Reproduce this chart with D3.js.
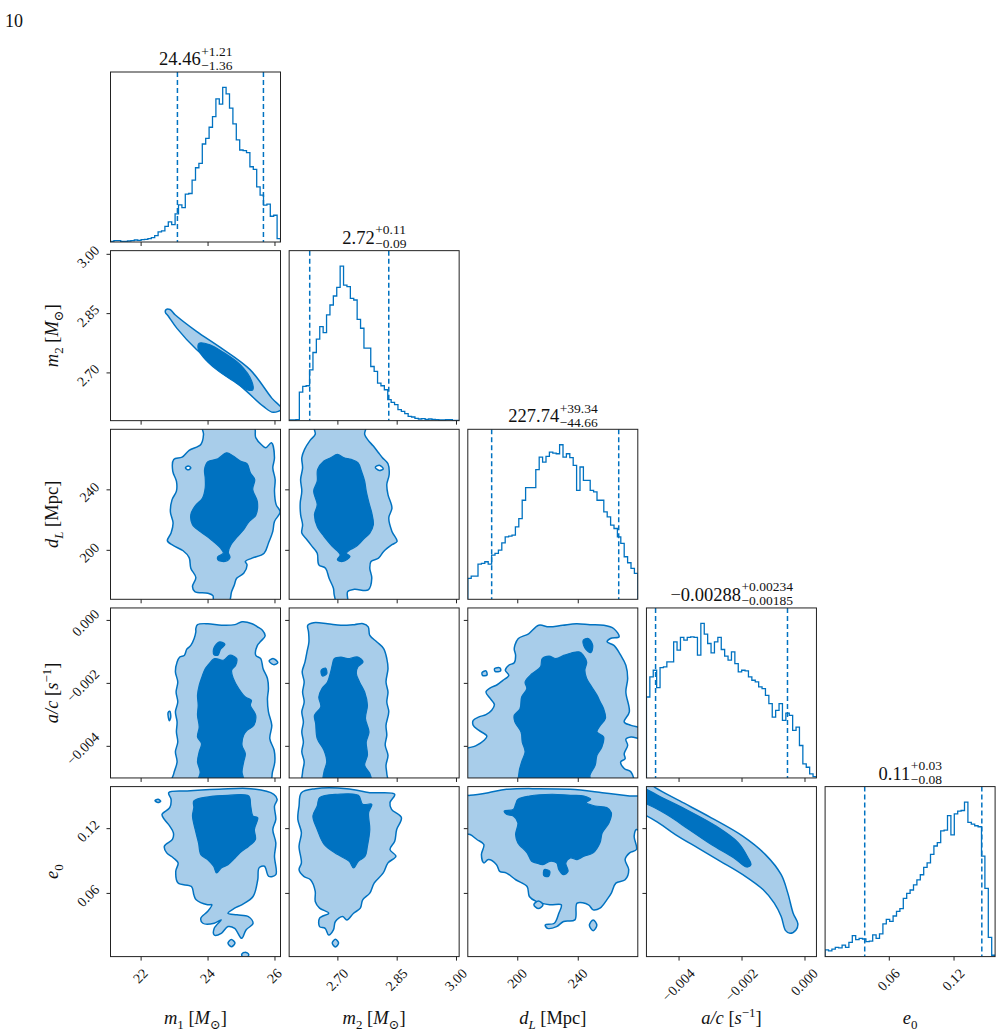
<!DOCTYPE html>
<html>
<head>
<meta charset="utf-8">
<script src="https://cdn.jsdelivr.net/npm/d3@7"></script>
<style>
  body { margin: 0; background: #fff; }
  text { font-family: "Liberation Serif", "DejaVu Serif", serif; fill: #111; }
</style>
</head>
<body>
<svg id="chart" width="1002" height="1034"></svg>
<script>
// parameters: m1, m2, dL, a/c (in units of 1e-3 s^-1), e0
const paramRanges = [[21.1, 26.18], [2.578, 3.008], [167.3, 279.7], [-5.02, 0.38], [0.001, 0.1585]];
const tickValues = [[22, 24, 26], [2.70, 2.85, 3.00], [200, 240], [-4, -2, 0], [0.06, 0.12]];
const tickLabels = [["22", "24", "26"], ["2.70", "2.85", "3.00"], ["200", "240"],
                    ["\u22120.004", "\u22120.002", "0.000"], ["0.06", "0.12"]];

const titleMid = ["24.46", "2.72", "227.74", "\u22120.00288", "0.11"];
const titlePlus = ["+1.21", "+0.11", "+39.34", "+0.00234", "+0.03"];
const titleMinus = ["\u22121.36", "\u22120.09", "\u221244.66", "\u22120.00185", "\u22120.08"];
const qLow = [23.10, 2.63, 183.08, -4.73, 0.0377];
const qHigh = [25.67, 2.83, 267.08, -0.54, 0.1462];

const axisLabels = [
  [{t: "m", it: 1}, {t: "1", sub: 1}, {t: " ["}, {t: "M", it: 1}, {t: "\u2299", sub: 1}, {t: "]"}],
  [{t: "m", it: 1}, {t: "2", sub: 1}, {t: " ["}, {t: "M", it: 1}, {t: "\u2299", sub: 1}, {t: "]"}],
  [{t: "d", it: 1}, {t: "L", sub: 1, it: 1}, {t: " [Mpc]"}],
  [{t: "a/c", it: 1}, {t: " ["}, {t: "s", it: 1}, {t: "\u22121", sup: 1}, {t: "]"}],
  [{t: "e", it: 1}, {t: "0", sub: 1}]
];

// 1D marginal histograms, 50 bins across each axis range
const histM1 = [2,4,4,2,2,3,4,6,5,7,8,10,13,19,30,33,47,60,52,84,111,103,143,145,185,222,235,293,310,343,
                375,428,412,462,443,400,353,305,275,273,267,225,217,165,140,110,113,77,80,10];
const histM2 = [2,2,3,86,103,105,153,205,245,283,265,318,348,375,401,465,408,403,368,363,305,278,218,218,163,
                148,113,105,93,63,55,48,33,28,21,13,11,7,5,6,4,5,4,3,2,2,3,3,1,1];
const histDL = [63,70,70,106,108,113,106,133,138,148,170,188,190,193,218,243,298,336,336,336,390,428,413,430,443,
                440,438,465,428,438,426,403,328,398,358,358,328,323,298,298,263,248,223,213,188,168,128,110,93,78];
const histAC = [242,302,322,270,330,332,347,347,407,382,420,412,420,422,420,367,462,430,402,374,407,420,384,364,352,
                377,342,317,322,320,302,292,287,272,267,247,222,182,202,222,172,194,187,142,152,97,42,32,12,4];
const histE0 = [20,17,22,27,26,34,27,42,62,50,54,52,44,46,64,54,67,97,110,104,120,134,142,172,187,197,212,227,242,264,
                277,302,327,337,372,374,417,360,422,430,432,457,397,392,387,384,297,202,57,4];
const hists = [histM1, histM2, histDL, histAC, histE0];

// 2D credible regions, vertices [x, y] in data units
const cM2M1Out = [[22.76,2.859],[22.88,2.859],[23.03,2.846],[23.67,2.804],[24.37,2.764],[25.27,2.707],[25.92,2.635],
  [26.21,2.608],[25.96,2.599],[25.67,2.614],[25.17,2.652],[24.47,2.703],[23.67,2.758],[23.08,2.812],[22.83,2.842],[22.74,2.852]];
const cM2M1In = [[23.75,2.774],[24.07,2.770],[24.47,2.751],[24.97,2.720],[25.32,2.678],[25.35,2.656],[25.22,2.655],
  [24.77,2.678],[24.27,2.707],[23.87,2.739],[23.72,2.759]];

const cDlM1Out = [[23.85,281.9],[23.88,276.4],[23.80,269.7],[23.45,265.8],[23.24,261.3],[22.99,259.8],[22.96,252.0],
  [23.07,245.4],[23.07,238.8],[22.94,233.2],[22.89,225.0],[22.97,217.7],[22.91,211.1],[22.80,206.0],[22.97,202.9],
  [23.27,199.4],[23.45,194.9],[23.50,187.9],[23.65,181.7],[23.55,175.7],[23.62,172.4],[24.01,171.3],[24.16,169.7],
  [24.19,164.6],[24.62,164.6],[24.72,172.4],[24.80,176.8],[24.87,181.2],[25.08,184.5],[25.18,190.1],[25.13,192.3],
  [25.33,194.5],[25.69,197.8],[25.82,204.4],[25.95,212.2],[26.00,218.8],[26.17,225.0],[26.05,229.9],[26.00,238.8],
  [26.02,246.5],[25.95,254.2],[26.00,260.9],[25.91,270.8],[25.74,267.5],[25.62,269.3],[25.44,274.2],[25.38,281.9]];
const cDlM1In = [[24.57,264.2],[24.77,262.0],[24.98,258.7],[25.18,256.9],[25.28,250.9],[25.41,246.5],[25.35,239.9],
  [25.49,231.7],[25.44,222.8],[25.23,218.4],[25.08,213.3],[24.87,208.2],[24.70,203.4],[24.62,198.5],[24.67,194.9],
  [24.52,192.3],[24.31,193.4],[24.31,195.6],[24.47,197.8],[24.39,201.1],[24.11,206.7],[23.80,211.8],[23.55,216.6],
  [23.50,223.3],[23.62,228.8],[23.85,234.3],[23.93,241.0],[23.93,247.6],[23.91,253.1],[24.01,258.2],[24.31,260.2]];
const cDlM1Hole = [[23.34,254.2],[23.42,255.5],[23.50,254.2],[23.42,252.9]];

const cDlM2Out = [[2.642,281.9],[2.644,276.4],[2.631,272.4],[2.617,266.4],[2.610,260.9],[2.612,254.2],[2.607,246.5],
  [2.610,238.8],[2.606,231.0],[2.607,223.3],[2.612,216.6],[2.610,211.1],[2.623,206.7],[2.636,202.3],[2.649,197.8],
  [2.653,190.1],[2.670,187.9],[2.679,181.2],[2.690,174.6],[2.692,170.2],[2.700,164.6],[2.725,164.6],[2.726,172.4],
  [2.743,173.9],[2.778,173.5],[2.787,181.2],[2.782,187.9],[2.785,192.3],[2.804,194.5],[2.817,198.9],[2.838,203.4],
  [2.851,205.6],[2.838,212.2],[2.830,221.1],[2.838,227.7],[2.828,236.5],[2.825,243.2],[2.831,249.8],[2.828,256.9],
  [2.814,260.9],[2.804,264.2],[2.791,268.6],[2.778,272.4],[2.769,276.4],[2.771,281.9]];
const cDlM2In = [[2.700,263.1],[2.717,260.9],[2.735,259.8],[2.752,257.6],[2.761,252.0],[2.769,245.4],[2.773,238.8],
  [2.780,231.0],[2.787,224.4],[2.791,216.6],[2.782,211.1],[2.769,207.8],[2.748,202.3],[2.732,200.0],[2.723,197.8],
  [2.732,195.6],[2.713,192.3],[2.700,193.4],[2.707,196.7],[2.687,202.3],[2.666,208.9],[2.649,215.5],[2.642,223.3],
  [2.649,229.9],[2.640,238.8],[2.649,245.4],[2.650,253.1],[2.666,258.7],[2.683,260.9]];
const cDlM2Hole = [[2.796,254.5],[2.806,256.0],[2.816,253.6],[2.806,252.5]];

const cAcM1Out = [[23.70,-0.15],[24.01,-0.12],[24.42,-0.17],[24.82,-0.15],[25.03,-0.06],[25.33,-0.12],[25.49,-0.22],
  [25.64,-0.33],[25.72,-0.51],[25.59,-0.68],[25.49,-0.81],[25.44,-1.12],[25.59,-1.23],[25.66,-1.55],[25.79,-1.86],
  [25.82,-2.18],[25.79,-2.50],[25.82,-2.92],[25.92,-3.35],[25.86,-3.77],[25.99,-4.14],[26.01,-4.51],[25.94,-4.83],
  [25.84,-5.20],[22.94,-5.20],[22.99,-4.88],[23.09,-4.51],[23.04,-4.19],[23.11,-3.88],[23.07,-3.56],[23.09,-3.24],
  [23.04,-2.92],[23.11,-2.61],[23.06,-2.29],[23.11,-1.97],[23.04,-1.65],[23.09,-1.34],[23.17,-1.18],[23.31,-1.12],
  [23.38,-0.93],[23.50,-0.81],[23.60,-0.59],[23.65,-0.38],[23.65,-0.28]];
const cAcM1In = [[24.01,-1.44],[24.21,-1.23],[24.47,-1.28],[24.67,-1.12],[24.87,-1.23],[24.84,-1.44],[24.72,-1.60],
  [24.77,-1.86],[24.93,-2.18],[25.13,-2.45],[25.31,-2.55],[25.28,-2.71],[25.44,-3.03],[25.38,-3.35],[25.18,-3.51],
  [25.08,-3.66],[25.03,-3.98],[25.13,-4.25],[25.08,-4.51],[25.03,-4.83],[25.08,-5.20],[23.72,-5.20],[23.78,-4.83],
  [23.70,-4.51],[23.75,-4.19],[23.82,-3.93],[23.70,-3.72],[23.75,-3.40],[23.70,-3.03],[23.72,-2.71],[23.70,-2.39],
  [23.75,-2.08],[23.85,-1.76],[23.93,-1.55]];
const cAcM1Isl = [[24.19,-0.89],[24.36,-0.70],[24.52,-0.78],[24.39,-0.93],[24.31,-1.12],[24.19,-1.10]];
const cAcM1Spot1 = [[25.84,-1.30],[25.97,-1.23],[26.10,-1.36],[25.97,-1.42]];
const cAcM1Spot2 = [[22.82,-2.95],[22.87,-2.90],[22.90,-3.08],[22.86,-3.20]];

const cAcM2Out = [[2.627,-0.38],[2.625,-0.17],[2.640,-0.09],[2.675,-0.12],[2.709,-0.17],[2.743,-0.15],[2.765,-0.12],
  [2.778,-0.22],[2.782,-0.49],[2.800,-0.70],[2.817,-0.91],[2.825,-1.23],[2.828,-1.55],[2.823,-1.97],[2.828,-2.29],
  [2.825,-2.61],[2.830,-2.92],[2.823,-3.35],[2.825,-3.66],[2.821,-3.98],[2.828,-4.30],[2.823,-4.62],[2.825,-4.88],
  [2.825,-5.20],[2.614,-5.20],[2.612,-4.83],[2.616,-4.51],[2.610,-4.19],[2.614,-3.88],[2.610,-3.56],[2.614,-3.24],
  [2.610,-2.92],[2.616,-2.61],[2.612,-2.29],[2.616,-1.97],[2.611,-1.65],[2.618,-1.34],[2.623,-1.02],[2.628,-0.70]];
const cAcM2In = [[2.692,-1.23],[2.709,-1.18],[2.726,-1.23],[2.752,-1.18],[2.765,-1.34],[2.752,-1.49],[2.748,-1.71],
  [2.756,-1.97],[2.769,-2.29],[2.776,-2.71],[2.771,-3.13],[2.780,-3.56],[2.773,-3.88],[2.776,-4.30],[2.769,-4.62],
  [2.782,-4.88],[2.785,-5.20],[2.666,-5.20],[2.666,-4.83],[2.673,-4.51],[2.666,-4.14],[2.649,-3.77],[2.645,-3.29],
  [2.642,-3.03],[2.658,-2.76],[2.653,-2.45],[2.661,-2.18],[2.675,-1.97],[2.683,-1.65],[2.687,-1.44]];
const cAcM2Isl = [[2.659,-1.60],[2.670,-1.53],[2.673,-1.71],[2.662,-1.78]];

const cAcDlOut = [[198.0,-0.93],[198.4,-0.81],[200.7,-0.59],[207.5,-0.44],[214.2,-0.17],[221.0,-0.22],[230.0,-0.17],
  [239.1,-0.12],[248.1,-0.15],[257.1,-0.17],[263.9,-0.28],[267.3,-0.54],[261.6,-0.59],[259.4,-0.70],[263.9,-0.81],
  [268.4,-1.12],[271.8,-1.44],[273.0,-1.86],[271.8,-2.29],[274.1,-2.92],[270.7,-3.24],[275.2,-3.35],[283.1,-3.48],
  [283.1,-3.77],[275.2,-3.72],[271.8,-3.79],[273.0,-3.98],[270.7,-4.25],[271.3,-4.41],[268.4,-4.51],[270.7,-4.72],
  [275.2,-4.83],[276.3,-5.20],[163.5,-5.20],[163.5,-4.17],[172.5,-4.00],[178.1,-3.82],[179.9,-3.69],[174.7,-3.51],
  [170.9,-3.35],[170.9,-3.19],[174.7,-3.08],[179.3,-3.01],[183.1,-2.87],[184.9,-2.69],[182.2,-2.50],[179.3,-2.29],
  [182.2,-2.16],[186.7,-2.06],[190.5,-1.92],[194.4,-1.76],[192.1,-1.60],[194.4,-1.44],[198.0,-1.36],[198.9,-1.12]];
const cAcDlIn = [[216.5,-1.23],[221.0,-1.15],[225.5,-1.23],[231.2,-1.12],[235.7,-1.05],[241.3,-1.02],[243.6,-1.12],
  [245.9,-1.34],[244.7,-1.60],[245.9,-1.86],[249.3,-2.13],[252.7,-2.39],[254.9,-2.61],[257.1,-2.82],[258.3,-3.13],
  [254.9,-3.35],[252.7,-3.56],[257.1,-3.72],[256.0,-4.03],[252.7,-4.30],[251.5,-4.62],[248.1,-4.93],[248.1,-5.20],
  [201.8,-5.20],[201.2,-4.83],[202.9,-4.51],[205.2,-4.19],[203.3,-3.88],[202.5,-3.56],[198.4,-3.24],[198.0,-3.03],
  [201.8,-2.82],[202.9,-2.45],[206.3,-2.18],[205.2,-1.97],[209.7,-1.71],[215.4,-1.49]];
const cAcDlIsl = [[243.6,-0.65],[247.0,-0.59],[249.9,-0.81],[248.6,-1.04],[244.7,-0.89]];
const cAcDlSpot1 = [[176.8,-1.67],[179.3,-1.62],[180.0,-1.75],[177.0,-1.76]];
const cAcDlSpot2 = [[185.0,-1.55],[188.5,-1.52],[189.0,-1.62],[185.5,-1.64]];

const cE0M1Out = [[22.84,0.1529],[23.39,0.1545],[24.34,0.1560],[25.29,0.1566],[25.98,0.1514],[26.08,0.1467],
  [26.00,0.1405],[26.04,0.1281],[25.95,0.1188],[26.04,0.1064],[26.00,0.0940],[26.04,0.0769],[25.83,0.0753],
  [25.70,0.0847],[25.54,0.0832],[25.50,0.0722],[25.36,0.0567],[25.02,0.0490],[24.81,0.0459],[24.61,0.0412],
  [24.88,0.0397],[25.22,0.0381],[25.36,0.0319],[25.15,0.0257],[25.02,0.0179],[24.81,0.0272],[24.61,0.0288],
  [24.41,0.0226],[24.20,0.0210],[24.20,0.0272],[24.41,0.0350],[24.20,0.0319],[23.86,0.0319],[23.80,0.0366],
  [24.00,0.0428],[24.13,0.0490],[24.00,0.0490],[23.66,0.0536],[23.59,0.0583],[23.52,0.0660],[23.12,0.0691],
  [23.05,0.0800],[23.12,0.0878],[22.98,0.0924],[22.78,0.0971],[22.71,0.1033],[22.95,0.1095],[22.98,0.1157],
  [22.87,0.1219],[22.71,0.1281],[22.64,0.1328],[22.87,0.1390],[22.91,0.1467]];
const cE0M1In = [[23.59,0.1452],[24.07,0.1492],[24.61,0.1504],[25.23,0.1498],[25.29,0.1405],[25.36,0.1312],
  [25.50,0.1297],[25.40,0.1188],[25.43,0.1095],[25.23,0.1033],[25.02,0.0986],[24.82,0.0924],[24.61,0.0862],
  [24.41,0.0831],[24.27,0.0785],[24.18,0.0847],[24.00,0.0909],[23.80,0.0955],[23.73,0.1064],[23.63,0.1188],
  [23.55,0.1312],[23.59,0.1390]];
const cE0M1Spot1 = [[22.43,0.1455],[22.52,0.1468],[22.60,0.1450],[22.52,0.1438]];
const cE0M1Spot2 = [[24.61,0.0135],[24.71,0.0168],[24.82,0.0135],[24.71,0.0102]];
const cE0M1Spot3 = [[25.02,0.0030],[25.12,0.0050],[25.23,0.0030],[25.12,-0.0020]];

const cE0M2Out = [[2.609,0.1529],[2.644,0.1566],[2.724,0.1566],[2.782,0.1529],[2.845,0.1514],[2.833,0.1436],
  [2.837,0.1374],[2.862,0.1297],[2.850,0.1188],[2.845,0.1079],[2.833,0.1002],[2.848,0.0940],[2.828,0.0878],
  [2.816,0.0785],[2.793,0.0691],[2.782,0.0598],[2.764,0.0536],[2.758,0.0459],[2.741,0.0412],[2.724,0.0350],
  [2.713,0.0381],[2.695,0.0335],[2.690,0.0257],[2.678,0.0210],[2.669,0.0272],[2.655,0.0288],[2.655,0.0366],
  [2.678,0.0412],[2.655,0.0459],[2.644,0.0521],[2.644,0.0614],[2.632,0.0722],[2.615,0.0753],[2.603,0.0815],
  [2.609,0.0878],[2.603,0.1033],[2.609,0.1157],[2.600,0.1281],[2.603,0.1405]];
const cE0M2In = [[2.655,0.1483],[2.701,0.1514],[2.753,0.1504],[2.764,0.1421],[2.787,0.1421],[2.779,0.1343],
  [2.782,0.1188],[2.776,0.1033],[2.770,0.0940],[2.753,0.0893],[2.741,0.0831],[2.730,0.0893],[2.701,0.0955],
  [2.667,0.1048],[2.649,0.1188],[2.638,0.1312],[2.649,0.1405]];
const cE0M2Spot1 = [[2.687,0.0135],[2.695,0.0170],[2.703,0.0135],[2.695,0.0100]];

const cE0DlOut = [[162.8,0.1498],[168.8,0.1504],[180.9,0.1529],[192.9,0.1560],[214.0,0.1566],[235.1,0.1560],
  [256.2,0.1529],[274.3,0.1498],[283.3,0.1483],[283.3,0.1157],[278.8,0.1188],[277.3,0.1126],[278.8,0.1002],
  [274.3,0.0971],[271.3,0.0909],[273.7,0.0816],[271.3,0.0722],[265.2,0.0691],[262.2,0.0598],[259.2,0.0536],
  [254.7,0.0459],[250.2,0.0443],[247.1,0.0490],[239.6,0.0505],[238.1,0.0350],[230.6,0.0335],[226.0,0.0288],
  [220.0,0.0272],[218.5,0.0303],[224.5,0.0319],[227.5,0.0412],[229.1,0.0490],[221.5,0.0490],[212.5,0.0521],
  [208.0,0.0567],[206.5,0.0660],[199.0,0.0722],[192.9,0.0784],[188.4,0.0800],[186.3,0.0862],[180.9,0.0909],
  [177.9,0.0878],[176.3,0.0955],[177.9,0.1048],[173.3,0.1095],[168.8,0.1141],[162.8,0.1157]];
const cE0DlIn = [[200.4,0.1467],[208.0,0.1498],[223.0,0.1514],[235.1,0.1504],[244.1,0.1498],[248.6,0.1467],
  [245.6,0.1436],[251.6,0.1405],[259.2,0.1390],[262.2,0.1343],[260.7,0.1250],[256.2,0.1157],[254.7,0.1064],
  [250.2,0.0971],[244.1,0.0940],[239.6,0.0909],[235.1,0.0924],[232.1,0.0878],[233.6,0.0800],[230.6,0.0769],
  [227.5,0.0816],[226.0,0.0878],[221.5,0.0893],[217.0,0.0862],[212.5,0.0878],[209.5,0.0893],[206.5,0.0971],
  [200.4,0.1064],[198.9,0.1141],[200.4,0.1250],[197.4,0.1312],[192.9,0.1328],[191.4,0.1359],[197.4,0.1374],[198.9,0.1421]];
const cE0DlIsl = [[217.9,0.0816],[221.5,0.0800],[220.6,0.0753],[217.6,0.0760]];
const cE0DlSpot1 = [[211.0,0.0490],[214.0,0.0525],[217.0,0.0490],[214.0,0.0455]];
const cE0DlSpot2 = [[247.7,0.0300],[250.2,0.0350],[252.6,0.0300],[250.2,0.0250]];

const cE0AcOut = [[-5.10,0.1653],[-4.74,0.1576],[-3.96,0.1452],[-2.96,0.1296],[-1.96,0.1126],[-1.24,0.0955],
  [-0.74,0.0769],[-0.53,0.0598],[-0.36,0.0412],[-0.21,0.0313],[-0.27,0.0257],[-0.46,0.0226],[-0.60,0.0251],
  [-0.74,0.0381],[-0.96,0.0505],[-1.31,0.0629],[-1.96,0.0769],[-2.67,0.0893],[-3.39,0.1017],[-4.10,0.1141],
  [-4.67,0.1256],[-5.00,0.1312],[-5.24,0.1343]];
const cE0AcIn = [[-5.24,0.1576],[-4.53,0.1483],[-3.67,0.1359],[-2.81,0.1219],[-2.10,0.1064],[-1.79,0.0924],
  [-1.70,0.0862],[-1.84,0.0840],[-2.24,0.0924],[-2.96,0.1048],[-3.67,0.1188],[-4.39,0.1328],[-5.00,0.1421],[-5.24,0.1436]];

// row-col -> regions
const contourTable = {
  "1-0": {outer: [cM2M1Out], holes: [], inner: [cM2M1In]},
  "2-0": {outer: [cDlM1Out], holes: [cDlM1Hole], inner: [cDlM1In]},
  "2-1": {outer: [cDlM2Out], holes: [cDlM2Hole], inner: [cDlM2In]},
  "3-0": {outer: [cAcM1Out, cAcM1Spot1, cAcM1Spot2], holes: [], inner: [cAcM1In, cAcM1Isl]},
  "3-1": {outer: [cAcM2Out], holes: [], inner: [cAcM2In, cAcM2Isl]},
  "3-2": {outer: [cAcDlOut, cAcDlSpot1, cAcDlSpot2], holes: [], inner: [cAcDlIn, cAcDlIsl]},
  "4-0": {outer: [cE0M1Out, cE0M1Spot1, cE0M1Spot2, cE0M1Spot3], holes: [], inner: [cE0M1In]},
  "4-1": {outer: [cE0M2Out, cE0M2Spot1], holes: [], inner: [cE0M2In]},
  "4-2": {outer: [cE0DlOut, cE0DlSpot1, cE0DlSpot2], holes: [], inner: [cE0DlIn, cE0DlIsl]},
  "4-3": {outer: [cE0AcOut], holes: [], inner: [cE0AcIn]}
};

const blue = "#0072C1", lightBlue = "#a8cdea", frameColor = "#222";
const size = 170, step = 178.65, left0 = 110.5, top0 = 72;
const n = paramRanges.length;

const svg = d3.select("#chart");
svg.append("text").attr("x", 5).attr("y", 27).attr("font-size", 18).text("10");

function richText(sel, parts, fs) {
  let shift = 0;
  parts.forEach(p => {
    const target = p.sub ? 4.5 : p.sup ? -7 : 0;
    sel.append("tspan")
      .attr("dy", target - shift)
      .attr("font-size", (p.sub || p.sup) ? fs * 0.7 : fs)
      .attr("font-style", p.it ? "italic" : null)
      .text(p.t);
    shift = target;
  });
}

for (let i = 0; i < n; i++) {
  for (let j = 0; j <= i; j++) {
    const x0 = left0 + j * step, y0 = top0 + i * step;
    const g = svg.append("g");
    const x = d3.scaleLinear().domain(paramRanges[j]).range([x0, x0 + size]);
    const clipId = `clip-${i}-${j}`;
    svg.append("clipPath").attr("id", clipId)
      .append("rect").attr("x", x0).attr("y", y0).attr("width", size).attr("height", size);
    const body = g.append("g").attr("clip-path", `url(#${clipId})`);

    if (i === j) {
      const h = hists[i];
      const y = d3.scaleLinear().domain([0, 1.1 * d3.max(h)]).range([y0 + size, y0]);
      const r = paramRanges[i];
      const edges = d3.range(h.length + 1).map(k => r[0] + k * (r[1] - r[0]) / h.length);
      const pts = [[edges[0], 0]];
      h.forEach((v, k) => { pts.push([edges[k], v]); pts.push([edges[k + 1], v]); });
      pts.push([edges[h.length], 0]);
      body.append("path")
        .attr("d", d3.line().x(d => x(d[0])).y(d => y(d[1]))(pts))
        .attr("fill", "none").attr("stroke", blue).attr("stroke-width", 1.3);
      [qLow[i], qHigh[i]].forEach(q => {
        body.append("line").attr("x1", x(q)).attr("x2", x(q)).attr("y1", y0).attr("y2", y0 + size)
          .attr("stroke", blue).attr("stroke-width", 1.5).attr("stroke-dasharray", "5,3");
      });
      // title
      const t = svg.append("text").attr("font-size", 18.5).attr("y", y0 - 7).text(titleMid[i]);
      const wMain = t.node().getComputedTextLength();
      const sp = svg.append("text").attr("font-size", 13.5).attr("y", y0 - 16.5).text(titlePlus[i]);
      const sb = svg.append("text").attr("font-size", 13.5).attr("y", y0 - 2.5).text(titleMinus[i]);
      const wScript = Math.max(sp.node().getComputedTextLength(), sb.node().getComputedTextLength());
      const start = x0 + size / 2 - (wMain + wScript) / 2;
      t.attr("x", start);
      sp.attr("x", start + wMain + 0.5);
      sb.attr("x", start + wMain + 0.5);
    } else {
      const y = d3.scaleLinear().domain(paramRanges[i]).range([y0 + size, y0]);
      const curve = d3.line().curve(d3.curveCatmullRomClosed.alpha(0.5)).x(d => x(d[0])).y(d => y(d[1]));
      const c = contourTable[`${i}-${j}`];
      c.outer.forEach(p => body.append("path").attr("d", curve(p))
        .attr("fill", lightBlue).attr("stroke", blue).attr("stroke-width", 1.5));
      c.holes.forEach(p => body.append("path").attr("d", curve(p))
        .attr("fill", "#fff").attr("stroke", blue).attr("stroke-width", 1.5));
      c.inner.forEach(p => body.append("path").attr("d", curve(p))
        .attr("fill", blue).attr("stroke", blue).attr("stroke-width", 1.2));

      // y ticks
      const ya = g.append("g").attr("transform", `translate(${x0},0)`)
        .call(d3.axisLeft(y).tickValues(tickValues[i]).tickSize(4).tickFormat(""));
      ya.select(".domain").remove();
      ya.selectAll("line").attr("stroke", frameColor);
      if (j === 0) {
        g.selectAll(null).data(tickValues[i]).join("text")
          .attr("font-size", 14).attr("text-anchor", "middle").attr("dominant-baseline", "central")
          .text((d, k) => tickLabels[i][k])
          .each(function(d) {
            const w = this.getComputedTextLength();
            const off = (w + 10) * 0.354;
            d3.select(this).attr("transform", `translate(${x0 - 10 - off},${y(d) + 3}) rotate(-45)`);
          });
        const yl = svg.append("text").attr("text-anchor", "middle")
          .attr("transform", `translate(58,${y0 + size / 2}) rotate(-90)`);
        richText(yl, axisLabels[i], 18.5);
      }
    }

    // x ticks
    const xa = g.append("g").attr("transform", `translate(0,${y0 + size})`)
      .call(d3.axisBottom(x).tickValues(tickValues[j]).tickSize(4).tickFormat(""));
    xa.select(".domain").remove();
    xa.selectAll("line").attr("stroke", frameColor);
    if (i === n - 1) {
      g.selectAll(null).data(tickValues[j]).join("text")
        .attr("font-size", 14).attr("text-anchor", "middle").attr("dominant-baseline", "central")
        .text((d, k) => tickLabels[j][k])
        .each(function(d) {
          const w = this.getComputedTextLength();
          const off = (w + 10) * 0.354;
          d3.select(this).attr("transform", `translate(${x(d)},${y0 + size + 11 + off}) rotate(-45)`);
        });
      const xl = svg.append("text").attr("text-anchor", "middle")
        .attr("x", x0 + size / 2).attr("y", 1024);
      richText(xl, axisLabels[j], 18.5);
    }

    g.append("rect").attr("x", x0).attr("y", y0).attr("width", size).attr("height", size)
      .attr("fill", "none").attr("stroke", frameColor).attr("stroke-width", 1);
  }
}
</script>
</body>
</html>
